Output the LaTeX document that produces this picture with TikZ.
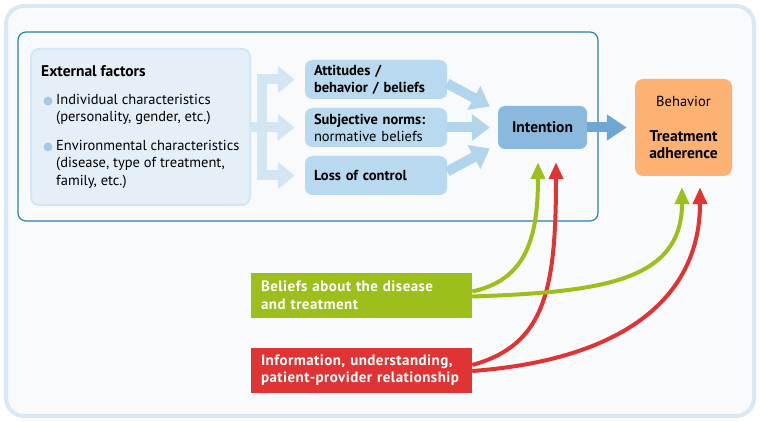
\documentclass[tikz,border=0pt]{standalone}
\usepackage{fontspec}
\setmainfont{PT Sans}
\usetikzlibrary{arrows.meta}
\definecolor{bgfill}{HTML}{F8FAFC}
\definecolor{bgedge}{HTML}{D9E8F3}
\definecolor{frameblue}{HTML}{2A7FAF}
\definecolor{extfill}{HTML}{E4EFF8}
\definecolor{extedge}{HTML}{D3E6F3}
\definecolor{forkblue}{HTML}{D3E7F3}
\definecolor{factfill}{HTML}{B9DAEE}
\definecolor{factarr}{HTML}{B3D5EC}
\definecolor{intfill}{HTML}{8BB9DE}
\definecolor{intarr}{HTML}{6FA7D4}
\definecolor{behfill}{HTML}{FBB272}
\definecolor{dotblue}{HTML}{A6C9E1}
\definecolor{beliefgreen}{HTML}{9CBF1C}
\definecolor{infored}{HTML}{E03334}
\newcommand{\txt}{\fontsize{14.5}{17.5}\selectfont}
\newcommand{\hdtxt}{\fontsize{15.5}{17.5}\selectfont\bfseries}

\begin{document}
\begin{tikzpicture}[x=1pt,y=-1pt,
		every node/.style={font=\txt},
		extbox/.style={draw=extedge,line width=2pt,fill=extfill,rounded corners=8pt,minimum width=219pt,minimum height=156pt},
		factor/.style={fill=factfill,rounded corners=7pt,minimum width=142pt,minimum height=39pt,text width=124pt,inner sep=0pt,align=left,font=\fontsize{14.5}{17}\selectfont},
		intent/.style={fill=intfill,rounded corners=7pt,minimum width=89pt,minimum height=43pt,font=\hdtxt},
		behav/.style={fill=behfill,rounded corners=8pt,minimum width=97pt,minimum height=97pt,align=center},
		textbox/.style={fill=#1,text=white,minimum width=221pt,minimum height=45pt,text width=201pt,inner sep=0pt,align=left,font=\fontsize{15}{17.5}\selectfont\bfseries\addfontfeatures{LetterSpace=3}},
		dot/.style={circle,fill=dotblue,inner sep=0pt,minimum size=9pt},
		listtext/.style={anchor=west,align=left,inner sep=0pt},
		fork/.style={draw=forkblue,line width=10pt,-{Triangle[width=26pt,length=17pt]}},
		factarrow/.style={draw=factarr,line width=10pt,-{Triangle[width=26pt,length=18pt]}},
		curvearrow/.style={draw=#1,line width=4pt,-{Triangle[width=14pt,length=17pt]}}]
	\useasboundingbox (0,0) rectangle (760,422);
	\draw[line width=4pt,draw=bgedge,fill=bgfill,rounded corners=18pt] (6,6) rectangle (754,416);
	\draw[frameblue,line width=1.2pt,rounded corners=8pt] (18,32) rectangle (598,221);

	\node[extbox] (ext) at (140.5,127) {};
	\node[anchor=west,inner sep=0pt,font=\hdtxt] (exttitle) at (41,71) {External factors};
	\node[dot] (d1) at (48,101) {};
	\node[listtext] (l1) at (56,109.5) {Individual characteristics\\(personality, gender, etc.)};
	\node[dot] (d2) at (48,147) {};
	\node[listtext] (l2) at (56,164) {Environmental characteristics\\(disease, type of treatment,\\family, etc.)};

	\node[factor] (att) at (376,79.5) {\textbf{Attitudes /}\\\textbf{behavior / beliefs}};
	\node[factor] (sub) at (376,127.5) {\textbf{Subjective norms:}\\normative beliefs};
	\node[factor] (loss) at (376,175.5) {\textbf{Loss of control}};
	\node[intent] (int) at (542.5,127.5) {Intention};
	\node[behav] (beh) at (683.5,127.5) {Behavior\\[17pt]{\hdtxt Treatment}\\{\hdtxt adherence}};
	\node[textbox=beliefgreen] (bel) at (361.5,295.5) {Beliefs about the disease\\and treatment};
	\node[textbox=infored] (info) at (361.5,370) {Information, understanding,\\patient-provider relationship};

	\coordinate (fk) at (262,127.5);
	\draw[fork] (ext.east) -- ([xshift=-10pt]sub.west);
	\draw[fork] (fk) |- ([xshift=-10pt]att.west);
	\draw[fork] (fk) |- ([xshift=-10pt]loss.west);

	\draw[factarrow] ([yshift=-4pt]att.east) -- ([xshift=-8pt,yshift=21pt]int.west);
	\draw[factarrow] (sub.east) -- ([xshift=-8pt]int.west);
	\draw[factarrow] ([yshift=4pt]loss.east) -- ([xshift=-8pt,yshift=-21pt]int.west);
	\draw[draw=intarr,line width=10pt,-{Triangle[width=25pt,length=20pt]}] (int.east) -- ([xshift=-8pt]beh.west);

	\draw[curvearrow=beliefgreen] ([yshift=4pt]bel.east) .. controls (525,280) and (538,240) .. ([xshift=-4.5pt,yshift=-13pt]int.south);
	\draw[curvearrow=infored] ([yshift=5pt]info.east) .. controls (545,345) and (556,290) .. ([xshift=13.5pt,yshift=-13pt]int.south);
	\draw[curvearrow=beliefgreen] ([yshift=-1pt]bel.east) .. controls (600,292) and (682,282) .. ([xshift=-1.5pt,yshift=-11pt]beh.south);
	\draw[curvearrow=infored] ([yshift=-1pt]info.east) .. controls (620,360) and (700,300) .. ([xshift=16.5pt,yshift=-11pt]beh.south);
\end{tikzpicture}
\end{document}
